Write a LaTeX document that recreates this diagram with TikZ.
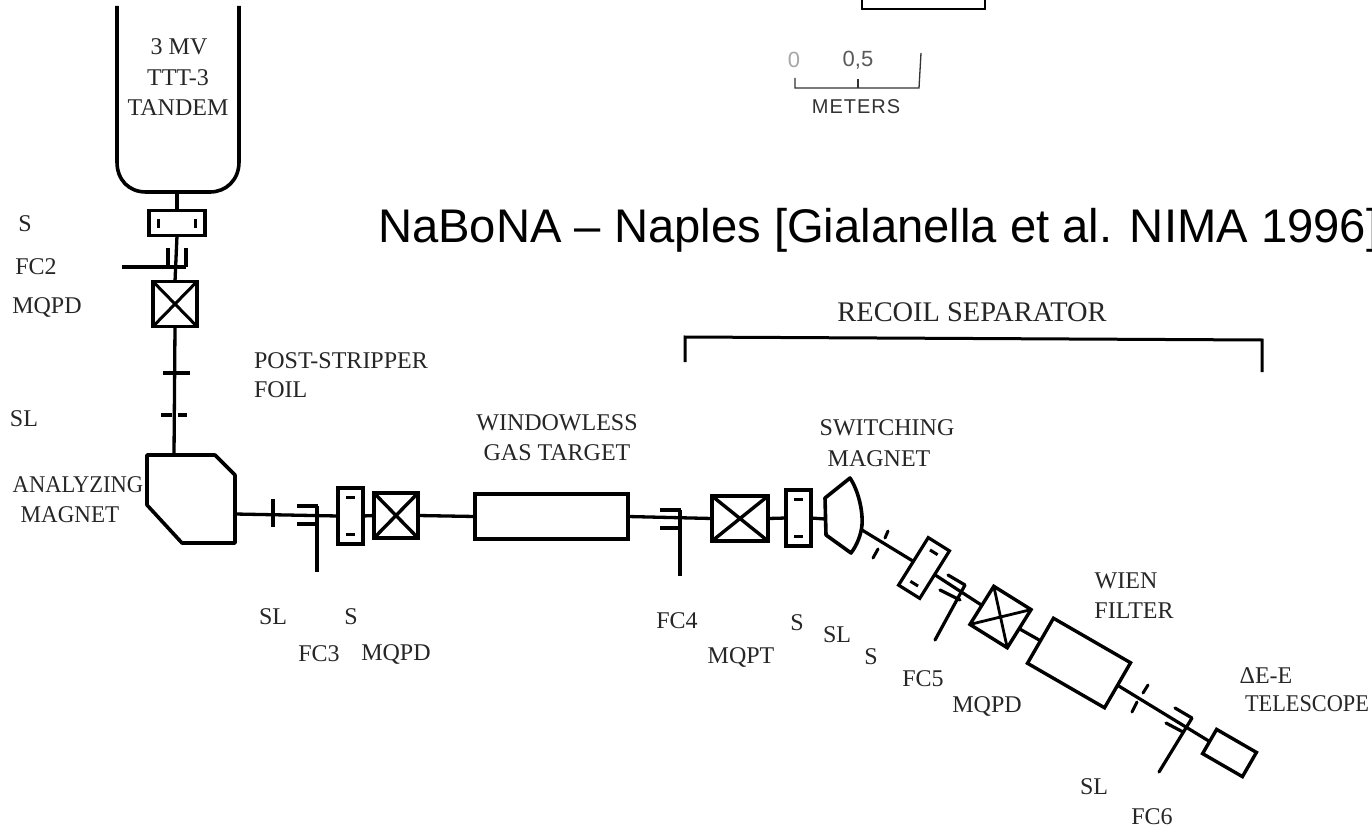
\documentclass[tikz,border=0pt]{standalone}
\usepackage{fontspec}
\setmainfont{Liberation Serif}
\newfontfamily\sansf{Liberation Sans}
\usetikzlibrary{calc}
\tikzset{
  every node/.style={inner sep=0pt,outer sep=0pt},
  lab/.style={font=\fontsize{24}{28}\selectfont,text=black!85,align=center},
  beam/.style={draw=black,line width=3.3pt},
  part/.style={draw=black,line width=3.2pt},
  heavy/.style={draw=black,line width=3.6pt},
  tick/.style={draw=black,line width=3.3pt},
  sbox/.style={draw=black,line width=3.2pt,minimum width=25pt,minimum height=56pt},
  qbox/.style={draw=black,line width=3.4pt,minimum width=44pt,minimum height=45pt},
  thin scale/.style={draw=black!80,line width=1.3pt},
}
\newcommand{\crossbox}[2][3pt]{\draw[black,line width=#1] (#2.north west)--(#2.south east) (#2.north east)--(#2.south west);}
\newcommand{\sdashes}[1]{%
 \draw[black,line width=3pt]
 ($($(#1.north west)!.32!(#1.north east)$)!.17!($(#1.south west)!.32!(#1.south east)$)$)--($($(#1.north west)!.68!(#1.north east)$)!.17!($(#1.south west)!.68!(#1.south east)$)$)
 ($($(#1.north west)!.32!(#1.north east)$)!.83!($(#1.south west)!.32!(#1.south east)$)$)--($($(#1.north west)!.68!(#1.north east)$)!.83!($(#1.south west)!.68!(#1.south east)$)$);}
\begin{document}
\begin{tikzpicture}[x=1pt,y=-1pt]
\useasboundingbox (0,0) rectangle (1372,829);
\clip (0,0) rectangle (1372,829);
\fill[white] (0,0) rectangle (1372,829);

% top fragment and scale
\draw[black,line width=1.8pt] (862,0)--(862,9)--(985,9)--(985,0);
\draw[thin scale] (795,78)--(795,88)--(919,88)--(921,53);
\draw[thin scale] (858,79)--(858,88);
\node[font=\sansf\fontsize{22}{26}\selectfont,text=black!35] (zero) at (794,60) {0};
\node[font=\sansf\fontsize{22}{26}\selectfont,text=black!65] (half) at (858,60) {0,5};
\node[font=\sansf\fontsize{20}{24}\selectfont,text=black!80] (meters) at (856,107) {M\kern1pt E\kern1pt T\kern1pt E\kern1pt R\kern1pt S};

% title
\node[anchor=base west,font=\sansf\fontsize{47.2}{54}\selectfont] (title) at (378,242) {NaBoNA – Naples [Gialanella et al. NIMA 1996]};

% recoil bracket
\draw[black,line width=3pt] (685,362)--(685,337)--(1262,340)--(1262,372);
\node[lab,font=\fontsize{28.4}{32}\selectfont] (recoil) at (972,312) {RECOIL SEPARATOR};

% tandem
\draw[heavy] (239,6)--(239,162) .. controls (239,180) and (226,192) .. (210,192)--(146,192) .. controls (129,192) and (117,180) .. (117,162)--(117,6);
\coordinate (tandemout) at (177,192);
\node[lab] (t1) at (179,47) {3 MV};
\node[lab] (t2) at (178,78) {TTT-3};
\node[lab] (t3) at (178,108) {TANDEM};

% vertical line
\node[sbox,rotate=-90] (s1) at (177,223) {};
\sdashes{s1}
\node[qbox] (q1) at (175,304) {};
\crossbox{q1}
\coordinate (m1in) at (174,455);
\coordinate (m1out) at (235,514);
\draw[beam] (tandemout)--(s1.west);
\draw[beam] (s1.east)--(q1.north);
\draw[beam] (q1.south)--(m1in);
% FC2
\draw[tick] (122,267)--(186,267) (168,248)--(168,267) (186,248)--(186,267);
% foil and slit
\draw[tick] (163,373)--(190,373);
\draw[tick] (161,415)--(172,415) (178,415)--(187,415);

% analyzing magnet
\draw[heavy,line join=round] (147,455)--(215,455)--(235,475)--(235,543)--(182,543)--(147,505)--cycle;

% horizontal line
\node[sbox] (s2) at (350.5,516) {};
\sdashes{s2}
\node[qbox,line width=3.8pt] (q2) at (396,515.5) {};
\crossbox[3.4pt]{q2}
\node[part,minimum width=153pt,minimum height=45pt] (gas) at (551.5,516.5) {};
\node[qbox,minimum width=56pt] (q3) at (740,518.5) {};
\crossbox[3.4pt]{q3}
\node[sbox] (s3) at (798.5,518) {};
\sdashes{s3}
\coordinate (m2in) at (825,519);
\draw[beam] (m1out)--(s2.west);
\draw[beam] (s2.east)--(q2.west);
\draw[beam] (q2.east)--(gas.west);
\draw[beam] (gas.east)--(q3.west);
\draw[beam] (q3.east)--(s3.west);
\draw[beam] (s3.east)--(m2in);
% SL + FC3
\draw[tick] (273,499)--(273,527);
\draw[tick] (297,506)--(318,506) (297,524)--(318,524) (317,506)--(317,572);
% FC4
\draw[tick] (660,510)--(681,510) (660,528)--(681,528) (680,510)--(680,576);

% switching magnet
\draw[heavy,line join=round] (825,498)--(850,478) .. controls (858,490) and (863,510) .. (862,525) .. controls (861,535) and (857,545) .. (851,553)--(826,535)--cycle;
\coordinate (m2out) at (862,530);

% deflected line
\node[sbox,line width=3.2pt,rotate=-32] (s4) at (924,568) {};
\sdashes{s4}
\node[qbox,rotate=-32] (q4) at (1000.5,617) {};
\crossbox[2.8pt]{q4}
\node[part,line width=3.4pt,rotate=-30,minimum width=89pt,minimum height=52pt] (wien) at (1079,663) {};
\node[part,line width=3.4pt,rotate=-30,minimum width=46pt,minimum height=28pt] (tel) at (1229.5,753) {};
\draw[beam,line width=3.2pt] (m2out)--(s4.west);
\draw[beam,line width=3.2pt] (s4.east)--(q4.west);
\draw[beam,line width=3.2pt] (q4.east)--(wien.west);
\draw[beam,line width=3.2pt] (wien.east)--(tel.west);
% SL
\draw[tick,line cap=round,line width=3pt] (888,531)--(885,538) (878,549)--(873,558);
\draw[tick,line cap=round,line width=3pt] (1148,685)--(1143,693) (1137,702)--(1132,712);
% FC5
\draw[tick,line cap=round,line width=3.2pt] (948,575)--(965,585) (940,590)--(960,600) (965,585)--(935,640);
% FC6
\draw[tick,line cap=round,line width=3.2pt] (1175,708)--(1192,718) (1166,723)--(1183,732) (1192,718)--(1159,772);

% labels
\node[lab] (a) at (25,224) {S};
\node[lab] (b) at (36,267) {FC2};
\node[lab] (c) at (47,307) {MQPD};
\node[lab,anchor=west] (d) at (254,361) {POST-STRIPPER};
\node[lab,anchor=west] (e) at (254,390) {FOIL};
\node[lab] (f) at (24,419) {SL};
\node[lab] (g) at (78,485) {\scalebox{.94}[1]{ANALYZING}};
\node[lab] (h) at (70,515) {\scalebox{.96}[1]{MAGNET}};
\node[lab] (i) at (557,423) {WINDOWLESS};
\node[lab] (j) at (557,453) {GAS TARGET};
\node[lab] (k) at (887,428) {SWITCHING};
\node[lab] (l) at (879,459) {MAGNET};
\node[lab] (m) at (273,617) {SL};
\node[lab] (n) at (351,617) {S};
\node[lab] (o) at (319,654) {FC3};
\node[lab] (p) at (396,654) {MQPD};
\node[lab] (q) at (677,621) {FC4};
\node[lab] (r) at (797,623) {S};
\node[lab] (s) at (837,635) {SL};
\node[lab] (u) at (741,657) {MQPT};
\node[lab] (v) at (871,657) {S};
\node[lab] (w) at (923,679) {FC5};
\node[lab] (x) at (987,706) {MQPD};
\node[lab] (y) at (1126,581) {WIEN};
\node[lab] (z) at (1134,611) {FILTER};
\node[lab] (aa) at (1266,676) {ΔE-E};
\node[lab] (ab) at (1307,704) {\scalebox{.93}[1]{TELESCOPE}};
\node[lab] (ac) at (1094,787) {SL};
\node[lab] (ad) at (1152,817) {FC6};
\end{tikzpicture}
\end{document}
